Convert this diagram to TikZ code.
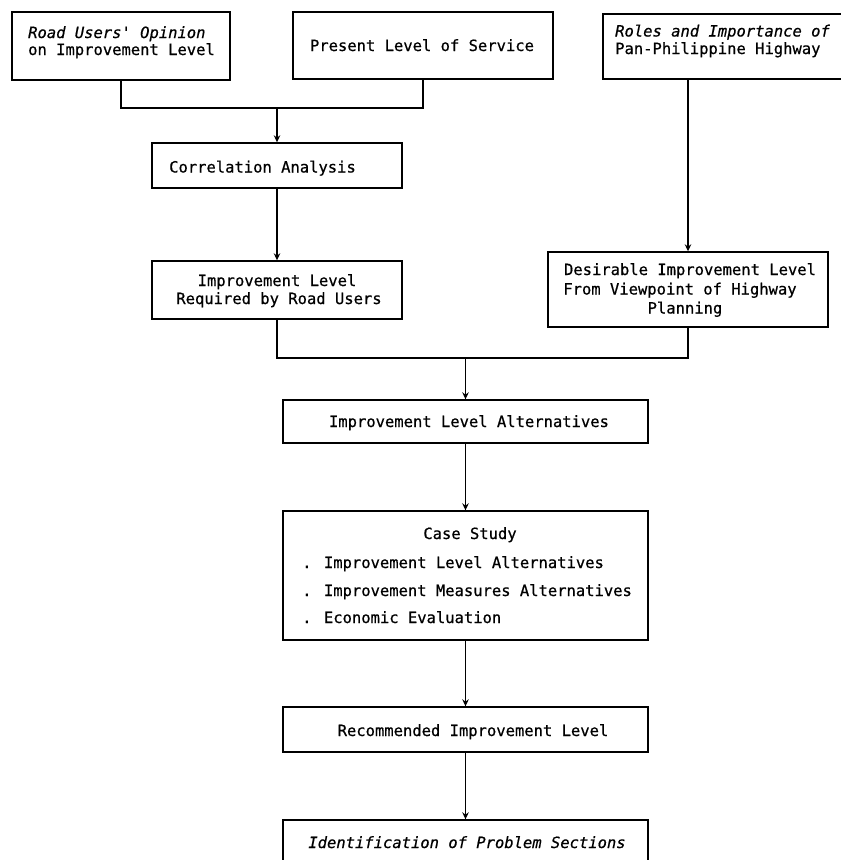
\documentclass[tikz,border=0pt]{standalone}
\usepackage{fontspec}
\setmainfont{DejaVu Sans Mono}[Ligatures=TeXOff,UprightFeatures={FakeBold=0.6},ItalicFeatures={FakeBold=0.6}]
\usetikzlibrary{arrows.meta,fit}
\begin{document}
\begin{tikzpicture}[x=1pt,y=-1pt,
  box/.style={draw,line width=1.4pt,inner sep=0pt,rectangle},
  tl/.style={inner sep=0pt,font=\fontsize{15.5}{18.5}\selectfont},
  line/.style={line width=1.6pt},
  arr/.style={line width=1.6pt,-{Stealth[length=7pt,width=6.5pt]}}]
\clip (0,0) rectangle (841,860);
\fill[white] (0,0) rectangle (841,860);
% boxes
\node[box,fit={(12,12) (230,80)}] (A) {};
\node[box,fit={(293,12) (553,79)}] (B) {};
\node[box,fit={(603,14) (850,79)}] (C) {};
\node[box,fit={(152,143) (402,188)}] (D) {};
\node[box,fit={(152,261) (402,319)}] (E) {};
\node[box,fit={(548,252) (828,327)}] (F) {};
\node[box,fit={(283,400) (648,443)}] (G) {};
\node[box,fit={(283,511) (648,640)}] (H) {};
\node[box,fit={(283,707) (648,752)}] (I) {};
\node[box,fit={(283,820) (648,866)}] (J) {};
% texts
\node[tl,anchor=base west] (A1) at (28,38) {\itshape Road Users' Opinion};
\node[tl,anchor=base west] (A2) at (28,55) {on Improvement Level};
\node[tl,anchor=base] (B1) at (422,51) {Present Level of Service};
\node[tl,anchor=base west] (C1) at (615,36.5) {\itshape Roles and Importance of};
\node[tl,anchor=base west] (C2) at (615,54) {Pan-Philippine Highway};
\node[tl,anchor=base west] (D1) at (169,172.5) {Correlation Analysis};
\node[tl,anchor=base] (E1) at (277,286) {Improvement Level};
\node[tl,anchor=base] (E2) at (279,304) {Required by Road Users};
\node[tl,anchor=base] (F1) at (690,275) {Desirable Improvement Level};
\node[tl,anchor=base] (F2) at (680,294.5) {From Viewpoint of Highway};
\node[tl,anchor=base] (F3) at (685,313.5) {Planning};
\node[tl,anchor=base] (G1) at (469,427) {Improvement Level Alternatives};
\node[tl,anchor=base] (H1) at (470,539) {Case Study};
\node[tl,anchor=base west] (H2) at (302,568) {. Improvement Level Alternatives};
\node[tl,anchor=base west] (H3) at (302,596) {. Improvement Measures Alternatives};
\node[tl,anchor=base west] (H4) at (302,623) {. Economic Evaluation};
\node[tl,anchor=base] (I1) at (473,736) {Recommended Improvement Level};
\node[tl,anchor=base] (J1) at (467,848) {\itshape Identification of Problem Sections};
% connectors
\coordinate (m1) at (277,108);
\coordinate (m2) at (465.5,358);
\draw[line] (A.south) |- (m1);
\draw[line] (B.south) |- (m1);
\draw[arr] (m1) -- (D.north);
\draw[arr] (D.south) -- (E.north);
\draw[arr] (C.south -| F.north) -- (F.north);
\draw[line] (E.south) |- (m2);
\draw[line] (F.south) |- (m2);
\draw[arr] (m2) -- (G.north);
\draw[arr] (G.south) -- (H.north);
\draw[arr] (H.south) -- (I.north);
\draw[arr] (I.south) -- (J.north);
\end{tikzpicture}
\end{document}
